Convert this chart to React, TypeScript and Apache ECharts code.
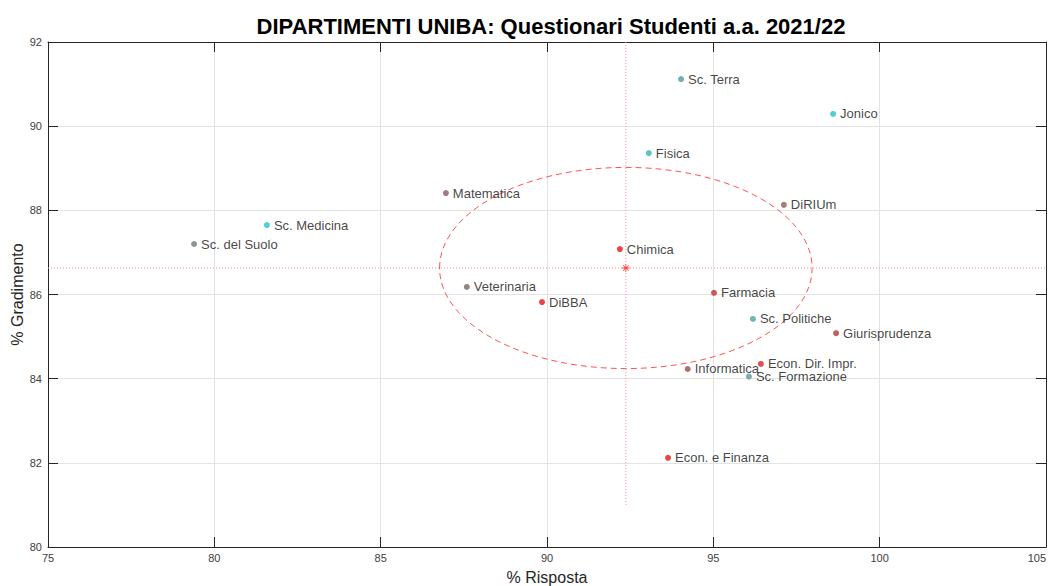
import React, { useEffect, useRef } from "react";
import * as echarts from "echarts";

const names = [
  "Sc. Terra", "Jonico", "Fisica", "Matematica", "DiRIUm", "Sc. Medicina",
  "Sc. del Suolo", "Chimica", "Veterinaria", "Farmacia", "DiBBA",
  "Sc. Politiche", "Giurisprudenza", "Econ. Dir. Impr.", "Informatica",
  "Sc. Formazione", "Econ. e Finanza",
];
const risposta = [
  94.03, 98.6, 93.06, 86.96, 97.12, 81.58, 79.39, 92.19, 87.59, 95.02,
  89.85, 96.19, 98.69, 96.43, 94.23, 96.07, 93.64,
];
const gradimento = [
  91.12, 90.29, 89.36, 88.41, 88.13, 87.65, 87.2, 87.08, 86.18, 86.04,
  85.82, 85.42, 85.08, 84.35, 84.23, 84.05, 82.12,
];
const pointColors = [
  "#4e9a9c", "#2cc0c8", "#36b4b6", "#8a5a60", "#925a5c", "#22c5cc",
  "#6a7a78", "#ee1111", "#7a6468", "#c03030", "#ee1111", "#4aa3a3",
  "#b03a3a", "#dd2222", "#a04848", "#5a9898", "#dd1a1a",
];
const meanPoint = [92.37, 86.63];
const ellipseRadii = [5.6, 2.39];
const meanVerticalRange = [81, 92];
const xTicks = [75, 105, 5];
const yTicks = [80, 92, 2];

const asterisk =
  "path://M-1,-10L1,-10L1,10L-1,10Z M-10,-1L10,-1L10,1L-10,1Z M-7.78,-6.36L-6.36,-7.78L7.78,6.36L6.36,7.78Z M6.36,-7.78L7.78,-6.36L-6.36,7.78L-7.78,6.36Z";

export default function App() {
  const ref = useRef<HTMLDivElement>(null);
  useEffect(() => {
    if (!ref.current) return;
    const chart = echarts.init(ref.current, undefined, { renderer: "svg" });
    const font = "Liberation Sans, Arial, Helvetica, sans-serif";
    const axisColor = "#262626";
    const baseX = {
      type: "value" as const,
      min: xTicks[0],
      max: xTicks[1],
      interval: xTicks[2],
    };
    const baseY = {
      type: "value" as const,
      min: yTicks[0],
      max: yTicks[1],
      interval: yTicks[2],
    };
    chart.setOption({
      animation: false,
      backgroundColor: "#ffffff",
      textStyle: { fontFamily: font },
      title: {
        text: "DIPARTIMENTI UNIBA: Questionari Studenti a.a. 2021/22",
        left: 546,
        top: 10,
        textAlign: "center",
        textStyle: { fontSize: 22, fontWeight: "bold", color: "#000", fontFamily: font },
      },
      grid: { left: 48, right: 7, top: 42, bottom: 39, containLabel: false, outerBoundsMode: "none" },
      xAxis: [
        {
          ...baseX,
          position: "bottom",
          name: "% Risposta",
          nameLocation: "middle",
          nameGap: 22,
          nameMoveOverlap: false,
          nameTextStyle: { fontSize: 16, color: "#262626", fontFamily: font },
          axisLine: { show: true, onZero: false, lineStyle: { color: axisColor } },
          axisTick: { show: true, inside: true, length: 10, lineStyle: { color: axisColor } },
          axisLabel: { fontSize: 11, color: "#404040", margin: 5, fontFamily: font, alignMaxLabel: "right" },
          splitLine: { show: true, lineStyle: { color: "#e3e3e3" } },
        },
        {
          ...baseX,
          position: "top",
          axisLine: { show: true, onZero: false, lineStyle: { color: axisColor } },
          axisTick: { show: true, inside: true, length: 10, lineStyle: { color: axisColor } },
          axisLabel: { show: false },
          splitLine: { show: false },
        },
      ],
      yAxis: [
        {
          ...baseY,
          position: "left",
          name: "% Gradimento",
          nameLocation: "middle",
          nameGap: 23,
          nameMoveOverlap: false,
          nameTextStyle: { fontSize: 16, color: "#262626", fontFamily: font },
          axisLine: { show: true, onZero: false, lineStyle: { color: axisColor } },
          axisTick: { show: true, inside: true, length: 10, lineStyle: { color: axisColor } },
          axisLabel: { fontSize: 11, color: "#404040", margin: 6, fontFamily: font },
          splitLine: { show: true, lineStyle: { color: "#e3e3e3" } },
        },
        {
          ...baseY,
          position: "right",
          axisLine: { show: true, onZero: false, lineStyle: { color: axisColor } },
          axisTick: { show: true, inside: true, length: 10, lineStyle: { color: axisColor } },
          axisLabel: { show: false },
          splitLine: { show: false },
        },
      ],
      series: [
        {
          type: "line",
          data: [
            [meanPoint[0], meanVerticalRange[0]],
            [meanPoint[0], meanVerticalRange[1]],
          ],
          symbol: "none",
          lineStyle: { color: "#ff8a8a", width: 1, type: [1, 2] },
          silent: true,
          z: 1,
        },
        {
          type: "line",
          data: [
            [xTicks[0], meanPoint[1]],
            [xTicks[1], meanPoint[1]],
          ],
          symbol: "none",
          lineStyle: { color: "#ff8a8a", width: 1, type: [1, 2] },
          silent: true,
          z: 1,
        },
        {
          type: "custom",
          data: [[meanPoint[0], meanPoint[1], ellipseRadii[0], ellipseRadii[1]]],
          renderItem: (_p: any, api: any) => {
            const cx = api.value(0);
            const cy = api.value(1);
            const c = api.coord([cx, cy]);
            const e = api.coord([cx + api.value(2), cy + api.value(3)]);
            return {
              type: "ellipse",
              shape: { cx: c[0], cy: c[1], rx: e[0] - c[0], ry: c[1] - e[1] },
              style: { fill: "none", stroke: "#ff5555", lineWidth: 1, lineDash: [6, 4] },
            };
          },
          silent: true,
          z: 2,
        },
        {
          type: "scatter",
          data: names.map((n, i) => ({
            value: [risposta[i], gradimento[i]],
            name: n,
            itemStyle: { color: pointColors[i] },
          })),
          symbol: "circle",
          symbolSize: 6,
          label: {
            show: true,
            position: "right",
            distance: 4,
            formatter: (p: any) => p.name,
            fontSize: 13,
            color: "#111111",
            fontFamily: font,
          },
          labelLayout: { hideOverlap: false },
          z: 3,
        },
        {
          type: "scatter",
          data: [meanPoint],
          symbol: asterisk,
          symbolSize: 8,
          itemStyle: { color: "#ff1a1a" },
          z: 4,
        },
      ],
    });
    return () => chart.dispose();
  }, []);
  return (
    <div
      ref={ref}
      style={{ position: "fixed", left: 0, top: 0, width: 1053, height: 586 }}
    />
  );
}
